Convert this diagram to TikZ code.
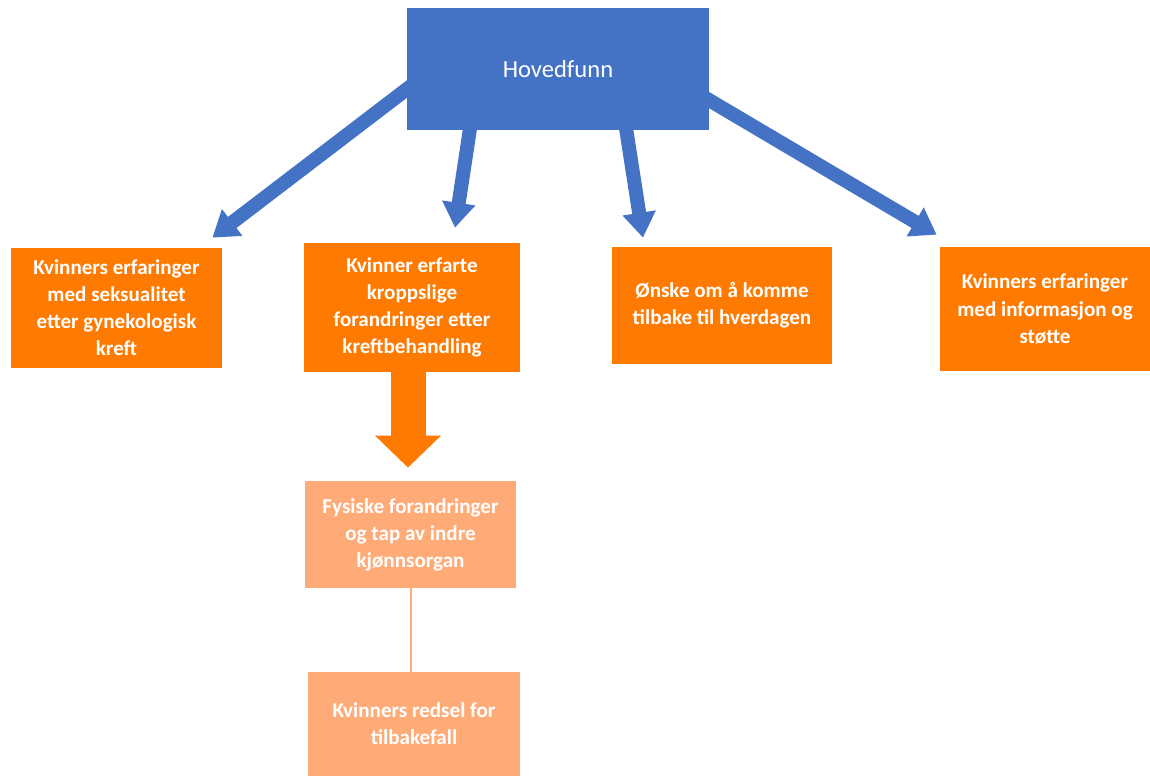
\documentclass[tikz,border=0pt]{standalone}
\usepackage{fontspec}
\setmainfont{Carlito}
\usepackage{tikz}
\usetikzlibrary{calc}
\usetikzlibrary{arrows.meta}
\usetikzlibrary{backgrounds}
\definecolor{funnblaa}{HTML}{4472C4}
\definecolor{oransje}{HTML}{FF7A00}
\definecolor{lysoransje}{HTML}{FFAB78}
\tikzset{hoved/.style = {shape=rectangle,fill=funnblaa,text=white,font=\fontsize{14}{17}\selectfont,minimum width=6.04cm,minimum height=2.44cm}}
\tikzset{tema/.style = {shape=rectangle,fill=oransje,text=white,align=center,font=\bfseries\fontsize{12}{15.4}\selectfont,minimum height=2.4cm}}
\tikzset{under/.style = {tema,fill=lysoransje}}
\tikzset{pil/.style = {draw=funnblaa,line width=0.28cm,-{Triangle[width=0.64cm,length=0.5cm]}}}
\tikzset{tykkpil/.style = {draw=oransje,line width=0.7cm,-{Triangle[width=1.28cm,length=0.64cm]}}}

\begin{document}
\begin{tikzpicture}[x=0.02cm,y=-0.02cm]
                    \useasboundingbox (0,0) rectangle (1150,776);
                    \node[hoved] (H) at (558,69) {Hovedfunn};

                    \node[tema,minimum width=4.22cm] (A) at (116.5,308) {Kvinners erfaringer\\med seksualitet\\etter gynekologisk\\kreft};
                    \node[tema,minimum width=4.32cm,minimum height=2.58cm] (B) at (412,307.5) {Kvinner erfarte\\kroppslige\\forandringer etter\\kreftbehandling};
                    \node[tema,minimum width=4.4cm,minimum height=2.34cm] (C) at (722,305.5) {Ønske om å komme\\tilbake til hverdagen};
                    \node[tema,minimum width=4.2cm,minimum height=2.48cm] (D) at (1045,309) {Kvinners erfaringer\\med informasjon og\\støtte};

                    \node[under,minimum width=4.22cm,minimum height=2.14cm] (E) at (410.5,534.5) {Fysiske forandringer\\og tap av indre\\kjønnsorgan};
                    \node[under,minimum width=4.24cm,minimum height=2.08cm] (F) at (414,724) {Kvinners redsel for\\tilbakefall};

                    \begin{scope}[on background layer]
                    \draw[pil] ($(H.west)+(16,8)$) -- ($(A.north east)+(-10,-10)$);
                    \draw[pil] ($(H.south)+(-86,-15)$) -- ($(B.north)+(43,-15)$);
                    \draw[pil] ($(H.south)+(66,-15)$) -- ($(C.north)+(-79,-9)$);
                    \draw[pil] ($(H.east)+(-19,20)$) -- ($(D.north west)+(-3,-12)$);
                    \draw[tykkpil] ($(E.north |- B)+(-2.5,0)$) -- ($(E.north)+(-2.5,-13)$);
                    \end{scope}
                    \draw[lysoransje,line width=0.04cm] (E.south) -- (E.south |- F.north);
                \end{tikzpicture}
\end{document}
